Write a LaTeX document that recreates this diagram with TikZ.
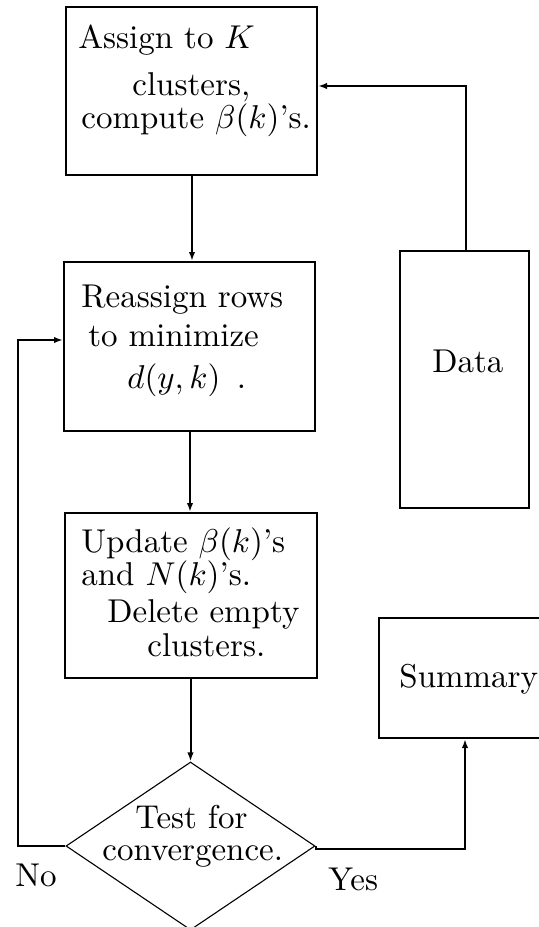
\documentclass[tikz,border=0pt]{standalone}
\usetikzlibrary{shapes.geometric,arrows.meta}
% 10pt type, magnified
\newcommand{\bigtype}[1]{\scalebox{1.65}{#1}}
\begin{document}
\begin{tikzpicture}[x=0.5pt,y=-0.5pt,
  box/.style={draw,line width=1pt,rectangle,inner sep=0pt},
  decision/.style={draw,line width=0.55pt,diamond,inner sep=0pt},
  txt/.style={anchor=base west,inner sep=0pt,font=\fontsize{10}{12}\selectfont},
  link/.style={line width=1pt},
  arr/.style={link,-{Latex[length=4.5pt,width=3.2pt]}}]
\useasboundingbox (0,0) rectangle (539,927);
\begin{scope}
\clip (0,0) rectangle (539,927);

% boxes
\node[box,minimum width=125.5pt,minimum height=84pt] (A) at (191.5,91) {};
\node[box,minimum width=125.5pt,minimum height=84.5pt] (B) at (189.5,346.5) {};
\node[box,minimum width=126pt,minimum height=82.5pt] (C) at (191,595.5) {};
\node[box,minimum width=64.5pt,minimum height=128.5pt] (data) at (464.5,379.5) {};
\node[box,minimum width=86pt,minimum height=60pt] (sum) at (465,678) {};
\node[decision,minimum width=124.5pt,minimum height=84pt] (test) at (190.5,846) {};

% texts
\node[txt] (a1) at (78,48) {\bigtype{Assign to $K$}};
\node[txt] (a2) at (132,95) {\bigtype{clusters,}};
\node[txt] (a3) at (81,128) {\bigtype{compute $\beta(k)$'s.}};
\node[txt] (b1) at (81,307) {\bigtype{Reassign rows}};
\node[txt] (b2) at (88,346) {\bigtype{to minimize}};
\node[txt] (b3) at (127,388) {\bigtype{$d(y,k)$\hspace{5pt}.}};
\node[txt] (c1) at (81,552) {\bigtype{Update $\beta(k)$'s}};
\node[txt] (c2) at (81,585) {\bigtype{and $N(k)$'s.}};
\node[txt] (c3) at (107,622) {\bigtype{Delete empty}};
\node[txt] (c4) at (147,656) {\bigtype{clusters.}};
\node[txt] (t1) at (135,828) {\bigtype{Test for}};
\node[txt] (t2) at (102,860) {\bigtype{convergence.}};
\node[txt] (d1) at (432,372) {\bigtype{Data}};
\node[txt] (s1) at (399,687) {\bigtype{Summary}};
\node[txt] (no) at (15,886) {\bigtype{No}};
\node[txt] (yes) at (328,890) {\bigtype{Yes}};

% connectors
\coordinate (up) at (466,86);
\coordinate (loopL) at (18,846);
\coordinate (loopT) at (18,340);
\coordinate (yesR) at (465,849);
\draw[arr] (A.south -| 192,0) -- (B.north -| 192,0);
\draw[arr] (B.south -| 190,0) -- (C.north -| 190,0);
\draw[arr] (C.south -| 190.5,0) -- (test.north);
\draw[arr] (data.north -| up) -- (up) -- (A.east |- up);
\draw[arr] (test.west) -- (loopL) -- (loopT) -- (B.west |- loopT);
\draw[arr] (test.east) |- (yesR) -- (sum.south -| yesR);
\end{scope}
\end{tikzpicture}
\end{document}
